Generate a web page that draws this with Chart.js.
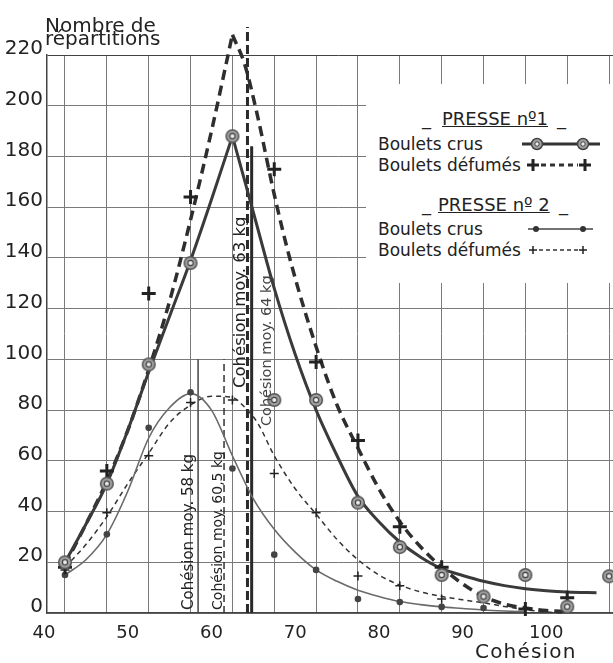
<!DOCTYPE html>
<html><head><meta charset="utf-8">
<script src="https://cdn.jsdelivr.net/npm/chart.js@4/dist/chart.umd.min.js"></script>
<style>
html,body{margin:0;padding:0;background:#fff;overflow:hidden;width:613px;height:663px;}
#wrap{position:relative;width:613px;height:663px;overflow:hidden;font-family:'DejaVu Sans',sans-serif;color:#222;}
#c{position:absolute;left:0;top:0;}
.t{position:absolute;white-space:nowrap;line-height:1;}
#leg{position:absolute;left:366px;top:84px;width:247px;height:199px;background:#fff;}
#sym{position:absolute;left:0;top:0;}
</style></head><body>
<div id="wrap">
<canvas id="c" width="640" height="663"></canvas>
<div class="t" style="left:45px;top:15px;font-size:20px;">Nombre de</div>
<div class="t" style="left:45px;top:28px;font-size:20px;">répartitions</div>
<div class="t" style="left:475px;top:641px;font-size:20px;letter-spacing:1.2px;">Cohésion</div>
<div id="leg"></div>
<div class="t" style="left:422px;top:110px;font-size:18px;">_</div>
<div class="t" style="left:442px;top:110px;font-size:18px;text-decoration:underline;">PRESSE nº1</div>
<div class="t" style="left:557px;top:110px;font-size:18px;">_</div>
<div class="t" style="left:378px;top:136px;font-size:17px;">Boulets crus</div>
<div class="t" style="left:378px;top:157px;font-size:17px;">Boulets défumés</div>
<div class="t" style="left:422px;top:196px;font-size:18px;">_</div>
<div class="t" style="left:438px;top:196px;font-size:18px;text-decoration:underline;">PRESSE nº 2</div>
<div class="t" style="left:559px;top:196px;font-size:18px;">_</div>
<div class="t" style="left:378px;top:221px;font-size:17px;">Boulets crus</div>
<div class="t" style="left:378px;top:242px;font-size:17px;">Boulets défumés</div>
<svg id="sym" width="613" height="663" xmlns="http://www.w3.org/2000/svg">
  <line x1="522" y1="144" x2="600" y2="144" stroke="#333" stroke-width="3"/>
  <circle cx="537" cy="144" r="5.5" fill="#a0a0a0" stroke="#444" stroke-width="1.5"/>
  <circle cx="537" cy="144" r="2.2" fill="#eee" stroke="#444" stroke-width="1"/>
  <circle cx="583" cy="144" r="5.5" fill="#a0a0a0" stroke="#444" stroke-width="1.5"/>
  <circle cx="583" cy="144" r="2.2" fill="#eee" stroke="#444" stroke-width="1"/>
  <line x1="541" y1="165" x2="578" y2="165" stroke="#333" stroke-width="3" stroke-dasharray="5,4"/>
  <path d="M527 165 H539 M533 159 V171 M579 165 H591 M585 159 V171" stroke="#222" stroke-width="3" fill="none"/>
  <line x1="528" y1="229" x2="593" y2="229" stroke="#444" stroke-width="1.5"/>
  <circle cx="536" cy="229" r="3" fill="#333"/>
  <circle cx="583" cy="229" r="3" fill="#333"/>
  <line x1="539" y1="250" x2="578" y2="250" stroke="#333" stroke-width="1.5" stroke-dasharray="4,3"/>
  <path d="M529 250 H537 M533 246 V254 M579 250 H587 M583 246 V254" stroke="#222" stroke-width="1.5" fill="none"/>
</svg>
</div>
<script>
// ---- data ----
const xLabelValues = [40, 50, 60, 70, 80, 90, 100];
const xGridValues = [42.5, 47.5, 52.5, 57.5, 62.5, 67.5, 72.5, 77.5, 82.5, 87.5, 92.5, 97.5, 102.5, 107.5];

// Presse n°1 - boulets crus (points)
const p1CrusX = [42.5, 47.5, 52.5, 57.5, 62.5, 67.5, 72.5, 77.5, 82.5, 87.5, 92.5, 97.5, 102.5, 107.5];
const p1CrusY = [20, 51, 98, 138, 188, 84, 84, 43.5, 26, 15, 6.5, 15, 2.5, 14.5];
// Presse n°1 - boulets défumés (points)
const p1DefX = [42.5, 47.5, 52.5, 57.5, 62.5, 67.5, 72.5, 77.5, 82.5, 87.5, 97.5, 102.5];
const p1DefY = [18, 56, 126, 164, 228, 175, 99, 68, 34, 18, 1.6, 6];
// Presse n°2 - boulets crus (points)
const p2CrusX = [42.5, 47.5, 52.5, 57.5, 62.5, 67.5, 72.5, 77.5, 82.5, 87.5, 92.5];
const p2CrusY = [15, 31, 73, 87, 57, 23, 17, 5.5, 4.3, 2.4, 2];
// Presse n°2 - boulets défumés (points)
const p2DefX = [42.5, 47.5, 52.5, 57.5, 62.5, 67.5, 72.5, 77.5, 82.5, 87.5];
const p2DefY = [17, 39.5, 62, 83, 84, 55, 39.5, 14.6, 10.7, 5.5];

// traced curves
const p1CrusCurveLX = [42.5, 45, 47.5, 50, 52.5, 55, 57.5, 60, 62.5];
const p1CrusCurveLY = [20, 35, 51, 72, 95, 117, 139, 163, 188];
const p1CrusCurveRX = [62.5, 65, 67.5, 70, 72.5, 75, 77.5, 80, 82.5, 85, 87.5, 90, 92.5, 95, 97.5, 100, 102.5, 106];
const p1CrusCurveRY = [188, 158, 128, 102, 80, 62, 46, 36, 28, 22, 17.5, 14.8, 12.5, 10.8, 9.6, 8.8, 8.3, 8];

const p1DefCurveLX = [42.5, 45, 47.5, 50, 52.5, 55, 57.5, 60, 62.5];
const p1DefCurveLY = [19, 35, 52, 72, 96, 123, 155, 190, 228];
const p1DefCurveRX = [62.5, 64, 65.5, 67.5, 69.5, 72.5, 75, 77.5, 80, 82.5, 85, 87.5, 90, 92.5, 95, 97.5, 100, 102.5];
const p1DefCurveRY = [228, 216, 196, 165, 138, 105, 82, 65, 49, 36, 26, 18, 11.5, 6.5, 3.5, 2, 1, 0.5];

const p2CrusCurveX = [42.5, 45, 47.5, 50, 52.5, 55, 57.5, 60, 62.5, 65, 67.5, 70, 72.5, 75, 77.5, 80, 82.5, 85, 87.5, 90, 92.5, 95, 97.5];
const p2CrusCurveY = [15, 21, 31, 48, 69, 81, 86.5, 80, 62, 45, 33, 24, 17, 12.5, 9, 6.5, 4.5, 3.3, 2.4, 1.8, 1.2, 0.8, 0.5];

const p2DefCurveX = [42.5, 45, 47.5, 50, 52.5, 55, 57.5, 60, 62.5, 64, 65.5, 67.5, 70, 72.5, 75, 77.5, 80, 82.5, 85, 87.5, 90, 92.5, 95, 97.5, 100, 102];
const p2DefCurveY = [18, 27, 38, 51, 63, 75, 82, 85.5, 85, 81, 75, 62, 49, 39, 29, 21, 15, 11, 8.3, 6.5, 5.2, 4, 2.6, 1.3, 0.4, 0];

// mean cohesion lines
const meanLabels = ['Cohésion moy. 58 kg', 'Cohésion moy. 60,5 kg', 'Cohésion moy. 63 kg', 'Cohésion moy. 64 kg'];
const meanX = [58.4, 61.5, 64.3, 64.8];
const meanTop = [100, 100, 231, 184];
const meanLabelStart = [1.2, 1.2, 88.7, 73.7];

// ---- build ----
const pts = (xs, ys) => xs.map((x, i) => ({x, y: ys[i]}));

function ringPoint() {
  const c = document.createElement('canvas');
  c.width = 16; c.height = 16;
  const g = c.getContext('2d');
  g.beginPath(); g.arc(8, 8, 6.3, 0, 2 * Math.PI);
  g.fillStyle = '#a0a0a0'; g.fill();
  g.lineWidth = 1.5; g.strokeStyle = '#555'; g.stroke();
  g.beginPath(); g.arc(8, 8, 2.6, 0, 2 * Math.PI);
  g.fillStyle = '#eee'; g.fill();
  g.lineWidth = 1.2; g.strokeStyle = '#444'; g.stroke();
  return c;
}

const curve = (data, color, width, dash) => ({
  data, showLine: true, pointRadius: 0, borderColor: color, borderWidth: width,
  borderDash: dash, cubicInterpolationMode: 'monotone', clip: false, fill: false
});

const vline = (i, color, width, dash) => ({
  data: [{x: meanX[i], y: 0}, {x: meanX[i], y: meanTop[i]}],
  showLine: true, pointRadius: 0, borderColor: color, borderWidth: width, borderDash: dash, clip: false
});

const datasets = [
  {data: pts(p1CrusX, p1CrusY), pointStyle: ringPoint(), pointRadius: 7, clip: false},
  {data: pts(p1DefX, p1DefY), pointStyle: 'cross', pointRadius: 7, pointBorderWidth: 3, borderColor: '#222', clip: false},
  {data: pts(p2CrusX, p2CrusY), pointStyle: 'circle', pointRadius: 3.3, backgroundColor: '#444', borderColor: '#444', borderWidth: 0, clip: false},
  {data: pts(p2DefX, p2DefY), pointStyle: 'cross', pointRadius: 4.5, pointBorderWidth: 1.5, borderColor: '#222', clip: false},
  curve(pts(p1CrusCurveLX, p1CrusCurveLY), '#3a3a3a', 3, []),
  curve(pts(p1CrusCurveRX, p1CrusCurveRY), '#3a3a3a', 3, []),
  curve(pts(p1DefCurveLX, p1DefCurveLY), '#2e2e2e', 3.5, [10, 6]),
  curve(pts(p1DefCurveRX, p1DefCurveRY), '#2e2e2e', 3.5, [10, 6]),
  curve(pts(p2CrusCurveX, p2CrusCurveY), '#6a6a6a', 1.6, []),
  curve(pts(p2DefCurveX, p2DefCurveY), '#333', 1.5, [5, 4]),
  vline(0, '#444', 1.5, []),
  vline(1, '#333', 1.5, [7, 4]),
  vline(2, '#2a2a2a', 3, [9, 4]),
  vline(3, '#2a2a2a', 3, [])
];

const labelStyle = [
  {dx: -5, size: 15, color: '#222'},
  {dx: -2.5, size: 14, color: '#222'},
  {dx: -2, size: 16.5, color: '#222'},
  {dx: 19, size: 14.5, color: '#444'}
];

const labelPlugin = {
  id: 'meanLabels',
  afterDatasetsDraw(chart) {
    const {ctx, scales: {x, y}} = chart;
    meanLabels.forEach((txt, i) => {
      const st = labelStyle[i];
      const px = x.getPixelForValue(meanX[i]) + st.dx;
      const py = y.getPixelForValue(meanLabelStart[i]);
      ctx.save();
      ctx.translate(px, py);
      ctx.rotate(-Math.PI / 2);
      ctx.font = st.size + 'px "DejaVu Sans"';
      ctx.fillStyle = st.color;
      ctx.textAlign = 'left';
      ctx.textBaseline = 'alphabetic';
      ctx.fillText(txt, 0, 0);
      ctx.restore();
    });
  }
};

Chart.defaults.font.family = "'DejaVu Sans', sans-serif";
Chart.defaults.color = '#222';

const allXTicks = xLabelValues.concat(xGridValues).sort((a, b) => a - b);

new Chart(document.getElementById('c'), {
  type: 'scatter',
  data: {datasets},
  options: {
    responsive: false,
    devicePixelRatio: 1,
    animation: false,
    events: [],
    layout: {padding: {top: 55, right: 2.4, left: 0, bottom: 0}},
    plugins: {legend: {display: false}, tooltip: {enabled: false}},
    scales: {
      x: {
        type: 'linear', min: 40.35, max: 110,
        afterBuildTicks: (s) => { s.ticks = allXTicks.map(v => ({value: v})); },
        afterFit: (s) => { s.height = 50; },
        ticks: {
          autoSkip: false, maxRotation: 0, padding: 10,
          font: {size: 18}, color: '#222',
          callback: (v) => xLabelValues.includes(v) ? String(v) : ''
        },
        grid: {
          drawTicks: false, lineWidth: 1,
          color: (c) => (c.tick && xGridValues.includes(c.tick.value)) ? '#7a7a7a' : 'rgba(0,0,0,0)'
        },
        border: {display: true, color: '#444', width: 1.5}
      },
      y: {
        type: 'linear', min: 0, max: 220,
        afterFit: (s) => { s.width = 47; },
        ticks: {stepSize: 10, padding: 4, labelOffset: -6, font: {size: 20}, color: '#222'},
        grid: {drawTicks: false, lineWidth: 1, color: (c) => c.tick && c.tick.value === 220 ? '#444' : '#7a7a7a'},
        border: {display: true, color: '#444', width: 1.5}
      }
    }
  },
  plugins: [labelPlugin]
});
</script>
</body></html>
